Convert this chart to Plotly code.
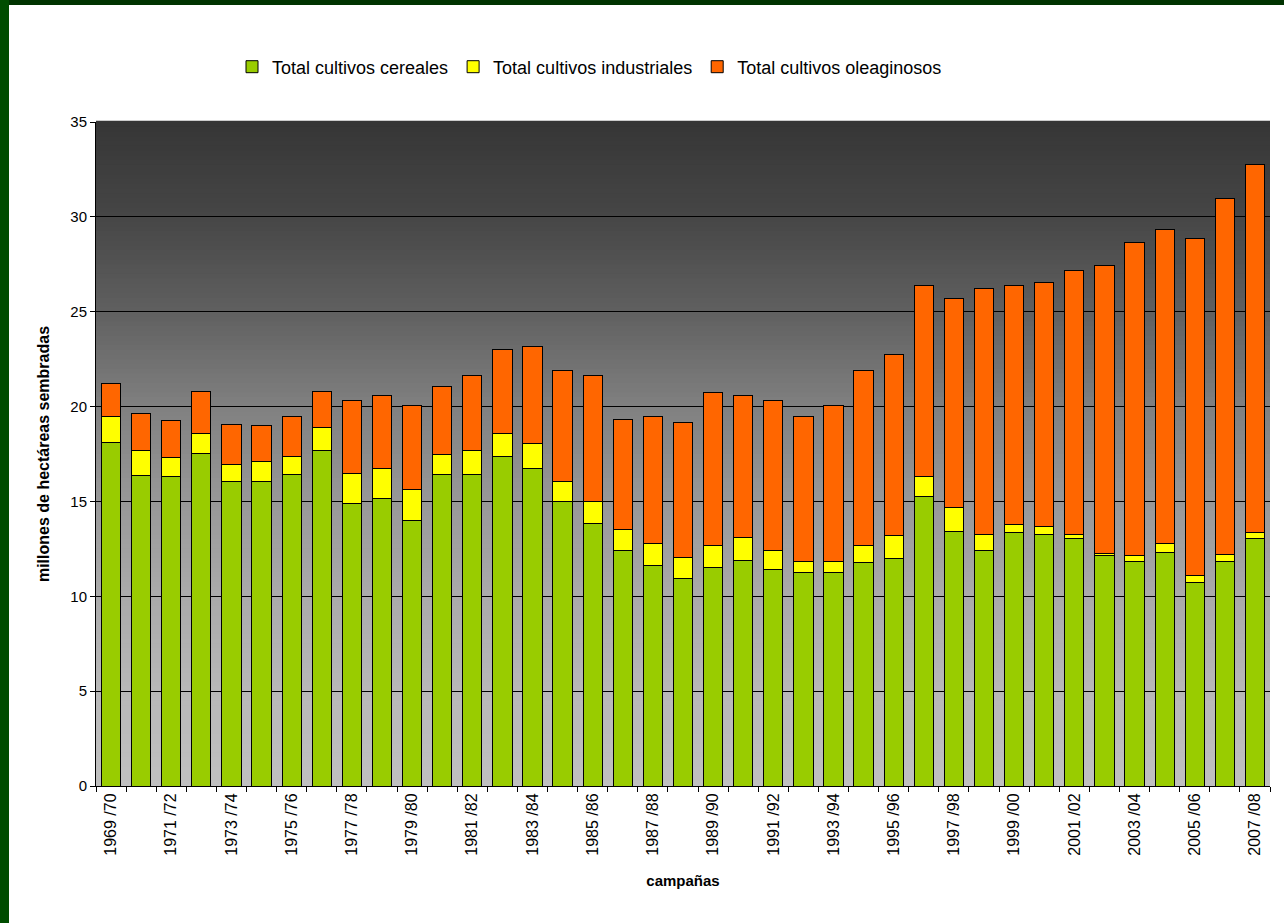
import plotly.graph_objects as go

campanas = [
    "1969 /70", "1970 /71", "1971 /72", "1972 /73", "1973 /74", "1974 /75", "1975 /76",
    "1976 /77", "1977 /78", "1978 /79", "1979 /80", "1980 /81", "1981 /82", "1982 /83",
    "1983 /84", "1984 /85", "1985 /86", "1986 /87", "1987 /88", "1988 /89", "1989 /90",
    "1990 /91", "1991 /92", "1992 /93", "1993 /94", "1994 /95", "1995 /96", "1996 /97",
    "1997 /98", "1998 /99", "1999 /00", "2000 /01", "2001 /02", "2002 /03", "2003 /04",
    "2004 /05", "2005 /06", "2006 /07", "2007 /08",
]

cereales = [
    18.10, 16.38, 16.29, 17.54, 16.04, 16.04, 16.43, 17.68, 14.90, 15.15,
    13.99, 16.43, 16.43, 17.36, 16.71, 14.99, 13.85, 12.44, 11.63, 10.96,
    11.54, 11.88, 11.39, 11.23, 11.23, 11.79, 11.97, 15.25, 13.44, 12.44,
    13.34, 13.27, 13.07, 12.14, 11.81, 12.30, 10.74, 11.81, 13.02,
]

industriales = [
    1.40, 1.30, 1.00, 1.05, 0.90, 1.08, 0.93, 1.23, 1.55, 1.61,
    1.65, 1.07, 1.25, 1.23, 1.32, 1.07, 1.13, 1.07, 1.13, 1.08,
    1.16, 1.23, 1.05, 0.60, 0.60, 0.91, 1.23, 1.06, 1.23, 0.83,
    0.42, 0.42, 0.20, 0.14, 0.33, 0.46, 0.33, 0.40, 0.33,
]

oleaginosos = [
    1.71, 1.98, 1.97, 2.23, 2.14, 1.89, 2.14, 1.91, 3.86, 3.82,
    4.43, 3.57, 3.95, 4.44, 5.16, 5.83, 6.65, 5.82, 6.74, 7.13,
    8.03, 7.47, 7.87, 7.67, 8.25, 9.19, 9.57, 10.06, 11.04, 12.93,
    12.61, 12.84, 13.91, 15.15, 16.52, 16.57, 17.78, 18.75, 19.42,
]

series_names = ["Total cultivos cereales", "Total cultivos industriales", "Total cultivos oleaginosos"]
series_colors = ["#99CC00", "#FFFF00", "#FF6600"]

y_ticks = [0, 5, 10, 15, 20, 25, 30, 35]

FONT = "Liberation Sans, Arial, sans-serif"
W, H = 1284, 923
L, R, T, B = 96, 14, 122, 137

fig = go.Figure()
for name, vals, col in zip(series_names, [cereales, industriales, oleaginosos], series_colors):
    fig.add_trace(go.Bar(
        x=campanas, y=vals, name=name,
        marker=dict(color=col, line=dict(color="black", width=1)),
    ))

# gradient background of plot area (styling strips)
stops = [(0, 0xc0), (5, 0xb8), (10, 0xaa), (15, 0x98), (20, 0x80), (25, 0x60), (30, 0x46), (35, 0x36)]
def shade(v):
    for (a, ca), (b, cb) in zip(stops[:-1], stops[1:]):
        if a <= v <= b:
            t = (v - a) / (b - a)
            return int(round(ca + t * (cb - ca)))
    return stops[-1][1]

shapes = []
N = 140
for i in range(N):
    y0 = i / N
    y1 = (i + 1) / N
    g = shade((y0 + y1) / 2 * 35)
    c = f"rgb({g},{g},{g})"
    shapes.append(dict(type="rect", xref="x domain", yref="y domain", x0=0, x1=1, y0=y0, y1=y1 + 0.002,
                       fillcolor=c, line=dict(width=0), layer="below"))

# dark green frame (top and left)
pw = W - L - R
ph = H - T - B
def px_x(p):
    return (p - L) / pw
def px_y(p):
    return (H - B - p) / ph
shapes.append(dict(type="rect", xref="paper", yref="paper", x0=px_x(0), x1=px_x(W), y0=px_y(5), y1=px_y(0),
                   fillcolor="#003300", line=dict(width=0), layer="below"))
shapes.append(dict(type="rect", xref="paper", yref="paper", x0=px_x(0), x1=px_x(9), y0=px_y(H), y1=px_y(0),
                   fillcolor="#004d00", line=dict(width=0), layer="below"))

ticktext = [c if i % 2 == 0 else "" for i, c in enumerate(campanas)]

fig.update_layout(
    width=W, height=H,
    margin=dict(l=L, r=R, t=T, b=B, pad=0),
    paper_bgcolor="white",
    plot_bgcolor="#c0c0c0",
    barmode="stack",
    bargap=0.36,
    font=dict(family=FONT, size=12, color="black"),
    shapes=shapes,
    showlegend=True,
    legend=dict(
        orientation="h", x=px_x(232), xanchor="left", y=px_y(67), yanchor="middle",
        font=dict(family=FONT, size=18, color="black"),
        bgcolor="rgba(0,0,0,0)", itemwidth=30, traceorder="normal",
    ),
    xaxis=dict(
        type="category",
        tickmode="array", tickvals=campanas, ticktext=ticktext,
        tickangle=-90, tickson="boundaries", ticks="outside", ticklen=5, tickcolor="black",
        showline=True, linecolor="black", linewidth=1,
        showgrid=False,
        tickfont=dict(family=FONT, size=16, color="black"),
        title=dict(text="<b>campañas</b>", font=dict(family=FONT, size=15, color="black"), standoff=20),
    ),
    yaxis=dict(
        range=[0, 35], tickvals=y_ticks,
        ticks="outside", ticklen=5, tickcolor="black",
        showline=True, linecolor="black", linewidth=1,
        showgrid=True, gridcolor="black", gridwidth=1,
        zeroline=False,
        tickfont=dict(family=FONT, size=15, color="black"),
        title=dict(text="<b>millones de hectáreas sembradas</b>", font=dict(family=FONT, size=16, color="black"), standoff=16),
    ),
)

fig.write_html("out.html", config={"displayModeBar": False}, post_script="document.body.style.margin='0';")
